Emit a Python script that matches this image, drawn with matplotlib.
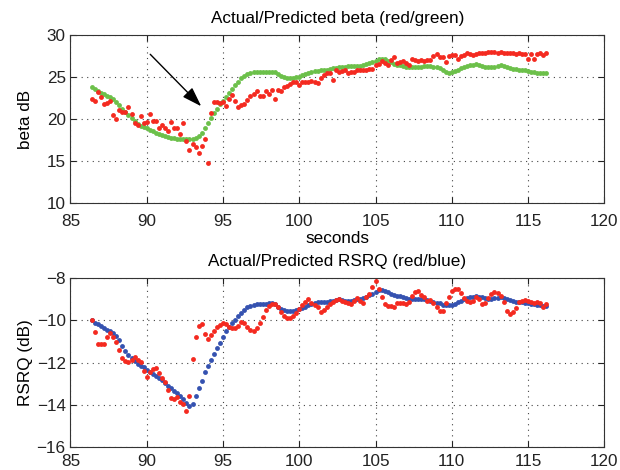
import numpy as np
import matplotlib
matplotlib.use("Agg")
import matplotlib.pyplot as plt

plt.rcParams['font.family'] = ['Liberation Sans', 'DejaVu Sans']

# sample times (s), one sample every 0.2 s
seconds = np.round(86.4 + 0.2 * np.arange(150), 1)

beta_actual = [
    22.4, 22.2, 23.2, 22.6, 21.8, 21.9, 22.2, 20.5, 20.0, 21.1,
    20.8, 20.9, 21.5, 20.6, 19.6, 19.3, 20.4, 19.5, 19.7, 20.6,
    19.8, 19.8, 18.9, 19.3, 18.9, 18.6, 19.7, 19.0, 19.0, 18.25,
    19.6, 17.4, 16.3, 17.0, 16.7, 15.95, 16.8, 17.6, 14.8, 20.7,
    22.0, 22.1, 21.95, 22.05, 21.6, 22.4, 22.9, 22.2, 21.4, 21.7,
    21.8, 22.3, 22.75, 23.0, 23.4, 22.75, 22.75, 23.35, 23.0, 23.5,
    22.4, 23.5, 23.4, 23.85, 23.9, 24.2, 24.4, 24.45, 24.1, 24.45,
    24.4, 24.45, 24.55, 24.4, 24.3, 24.9, 25.25, 25.45, 25.5, 24.6,
    25.8, 25.6, 25.75, 25.9, 25.5, 25.6, 25.65, 25.9, 25.8, 25.9,
    25.85, 26.0, 26.0, 26.4, 26.6, 26.95, 26.7, 26.4, 27.0, 27.4,
    26.7, 26.85, 26.95, 26.7, 26.4, 27.2, 27.0, 26.95, 27.0, 26.9,
    27.0, 27.05, 27.5, 27.8, 27.4, 27.4, 26.8, 27.5, 27.6, 27.6,
    27.1, 27.5, 27.6, 27.9, 27.8, 27.6, 27.75, 27.9, 27.85, 27.9,
    27.95, 27.95, 27.95, 27.9, 27.95, 27.9, 27.85, 27.9, 27.9, 27.8,
    27.85, 27.75, 27.7, 27.1, 27.7, 27.1, 27.7, 27.9, 27.6, 27.9,
]

beta_predicted = [
    23.8, 23.6, 23.4, 23.15, 22.95, 22.75, 22.6, 22.4, 22.1, 21.65,
    21.2, 20.85, 20.45, 20.1, 19.75, 19.45, 19.25, 19.05, 18.9, 18.7,
    18.55, 18.4, 18.25, 18.1, 17.95, 17.85, 17.78, 17.72, 17.65, 17.6,
    17.6, 17.6, 17.62, 17.68, 17.75, 17.95, 18.35, 18.95, 19.6, 20.15,
    20.7, 21.25, 21.75, 22.2, 22.65, 23.15, 23.6, 24.05, 24.45, 24.85,
    25.15, 25.35, 25.5, 25.55, 25.6, 25.62, 25.64, 25.65, 25.65, 25.64,
    25.55, 25.4, 25.15, 25.0, 24.95, 24.95, 24.95, 24.97, 25.05, 25.2,
    25.35, 25.5, 25.6, 25.68, 25.75, 25.8, 25.85, 25.9, 25.97, 26.05,
    26.12, 26.18, 26.22, 26.25, 26.28, 26.3, 26.32, 26.35, 26.38, 26.42,
    26.55, 26.68, 26.82, 26.95, 27.1, 27.2, 27.1, 26.95, 26.78, 26.6,
    26.5, 26.4, 26.32, 26.25, 26.2, 26.15, 26.18, 26.2, 26.25, 26.28,
    26.3, 26.28, 26.25, 26.2, 26.05, 25.85, 25.6, 25.5, 25.55, 25.7,
    25.85, 26.05, 26.2, 26.35, 26.45, 26.5, 26.55, 26.5, 26.38, 26.22,
    26.15, 26.18, 26.25, 26.35, 26.4, 26.35, 26.25, 26.12, 26.0, 25.92,
    25.88, 25.85, 25.8, 25.75, 25.65, 25.58, 25.52, 25.5, 25.48, 25.47,
]

rsrq_actual = [
    -10.0, -10.55, -11.1, -11.1, -11.1, -10.8, -10.6, -10.78, -11.0, -11.42,
    -11.76, -11.92, -11.97, -11.86, -11.73, -11.86, -11.97, -12.4, -12.71, -12.45,
    -12.29, -12.24, -12.52, -12.75, -12.92, -13.32, -13.67, -13.71, -13.64, -13.88,
    -13.95, -14.3, -13.6, -11.81, -10.78, -10.27, -10.18, -10.65, -10.86, -10.7,
    -10.5, -10.33, -10.2, -10.11, -10.18, -10.3, -10.35, -10.38, -10.27, -10.05,
    -10.1, -10.3, -10.43, -10.5, -10.38, -10.14, -9.83, -9.51, -9.32, -9.2,
    -9.22, -9.35, -9.59, -9.8, -9.9, -9.88, -9.8, -9.66, -9.45, -9.25,
    -9.1, -9.0, -9.16, -9.25, -9.35, -9.59, -9.48, -9.34, -9.2, -9.1,
    -9.03, -9.0, -9.05, -9.11, -9.16, -9.22, -9.05, -8.95, -9.05, -9.16,
    -8.88, -8.75, -8.4, -8.11, -8.48, -8.9, -9.2, -9.3, -9.33, -9.35,
    -9.19, -9.16, -9.18, -9.2, -9.1, -8.85, -8.65, -8.6, -8.78, -8.88,
    -9.07, -9.03, -9.16, -9.38, -9.56, -9.56, -9.19, -8.9, -8.62, -8.48,
    -8.5, -8.7, -8.95, -9.07, -9.11, -9.07, -8.9, -9.0, -9.22, -9.16,
    -8.95, -8.72, -8.65, -8.68, -8.85, -9.1, -9.55, -9.67, -9.6, -9.4,
    -9.12, -9.05, -9.03, -9.08, -9.11, -9.16, -9.1, -9.18, -9.35, -9.22,
]

rsrq_predicted = [
    -10.0, -10.1, -10.18, -10.27, -10.35, -10.43, -10.5, -10.6, -10.75, -10.95,
    -11.2, -11.45, -11.65, -11.8, -11.92, -12.05, -12.15, -12.22, -12.35, -12.45,
    -12.55, -12.65, -12.75, -12.85, -12.97, -13.1, -13.22, -13.35, -13.47, -13.6,
    -13.75, -13.92, -14.05, -13.95, -13.6, -13.22, -12.88, -12.45, -12.15, -11.88,
    -11.57, -11.33, -11.07, -10.78, -10.52, -10.3, -10.12, -9.97, -9.8, -9.65,
    -9.5, -9.38, -9.3, -9.25, -9.23, -9.22, -9.21, -9.2, -9.19, -9.19,
    -9.22, -9.35, -9.45, -9.52, -9.54, -9.54, -9.53, -9.5, -9.47, -9.4,
    -9.34, -9.27, -9.2, -9.16, -9.13, -9.12, -9.11, -9.1, -9.08, -9.05,
    -9.01, -9.0, -9.02, -9.05, -9.06, -9.05, -9.03, -9.0, -8.97, -8.93,
    -8.88, -8.8, -8.72, -8.65, -8.57, -8.56, -8.6, -8.66, -8.72, -8.78,
    -8.82, -8.85, -8.88, -8.92, -8.97, -9.0, -9.0, -8.98, -8.97, -8.99,
    -9.02, -9.05, -9.1, -9.15, -9.19, -9.24, -9.27, -9.27, -9.24, -9.2,
    -9.14, -9.06, -9.0, -8.95, -8.9, -8.86, -8.84, -8.86, -8.9, -8.94,
    -8.97, -8.97, -8.94, -8.91, -8.9, -8.92, -8.97, -9.02, -9.07, -9.11,
    -9.12, -9.14, -9.16, -9.18, -9.2, -9.23, -9.26, -9.28, -9.3, -9.32,
]

RED = '#f42a20'
GREEN = '#6cc04a'
BLUE = '#3552b0'
FS = 12.3

fig = plt.figure(figsize=(6.2, 4.7), dpi=100)
ax1 = fig.add_axes([0.1137, 0.5674, 0.861, 0.358])
ax2 = fig.add_axes([0.1137, 0.0496, 0.861, 0.358])


def style(ax, xpad):
    ax.set_xlim(85, 120)
    ax.set_xticks(np.arange(85, 121, 5))
    ax.grid(True, linestyle=(0, (1, 4)), color='#444444', linewidth=0.8)
    ax.tick_params(direction='in', top=True, right=True, labelsize=FS,
                   length=4, width=0.8, colors='#222222')
    ax.tick_params(axis='x', pad=xpad)
    ax.yaxis.set_label_coords(-0.07, 0.5)
    for s in ax.spines.values():
        s.set_color('#333333')
        s.set_linewidth(0.8)


ax1.plot(seconds, beta_predicted, 'o', color=GREEN, ms=3.5, mew=0)
ax1.plot(seconds, beta_actual, 'o', color=RED, ms=3.5, mew=0)
style(ax1, 8)
ax1.set_ylim(10, 30)
ax1.set_yticks(np.arange(10, 31, 5))
ax1.set_title('Actual/Predicted beta (red/green)', fontsize=FS, pad=9)
ax1.set_xlabel('seconds', fontsize=FS, labelpad=1)
ax1.set_ylabel('beta dB', fontsize=FS)
ax1.annotate('', xy=(93.7, 21.3), xytext=(90.1, 27.95),
             arrowprops=dict(arrowstyle='-|>,head_length=1.2,head_width=0.4',
                             color='black', lw=1.0))

ax2.plot(seconds, rsrq_predicted, 'o', color=BLUE, ms=3.5, mew=0)
ax2.plot(seconds, rsrq_actual, 'o', color=RED, ms=3.5, mew=0)
style(ax2, 5)
ax2.set_ylim(-16, -8)
ax2.set_yticks(np.arange(-16, -7, 2))
ax2.set_title('Actual/Predicted RSRQ (red/blue)', fontsize=FS, pad=9)
ax2.set_ylabel('RSRQ (dB)', fontsize=FS)

fig.savefig('out.png', dpi=100)
